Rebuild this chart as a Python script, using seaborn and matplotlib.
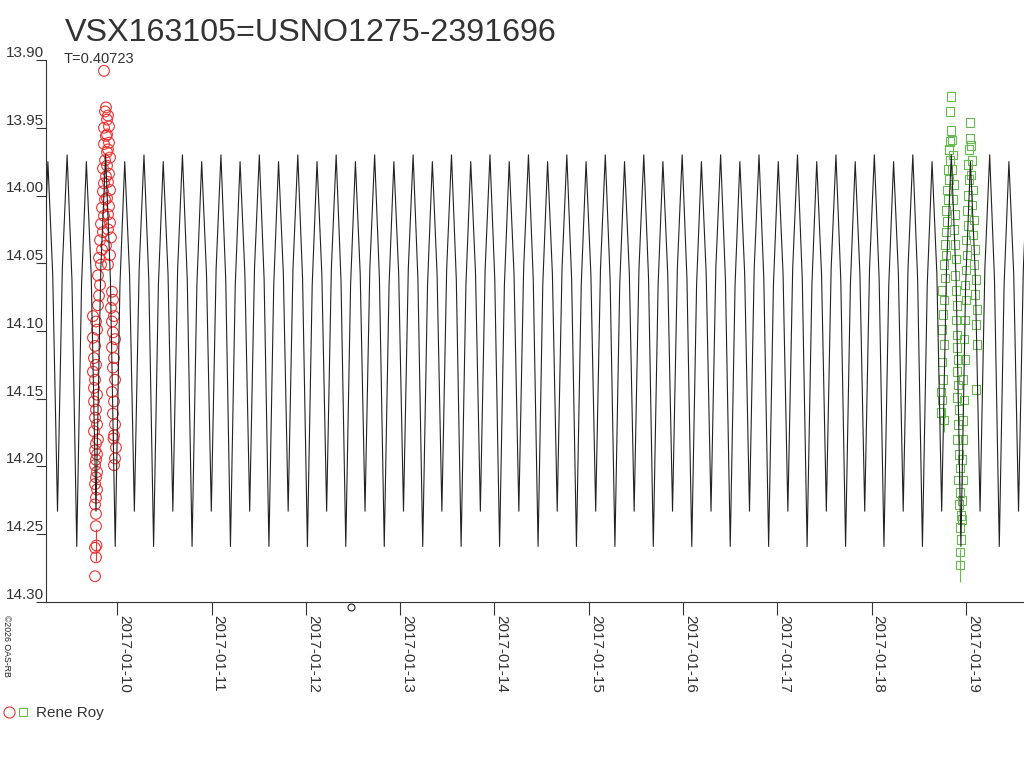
"""
Light curve of VSX163105 with the model ephemeris and Rene Roy's two runs.
Writes out.png (1024x768).
"""

import numpy as np
import pandas as pd
import matplotlib
matplotlib.use("Agg")
import matplotlib.pyplot as plt
import matplotlib.dates as mdates
from matplotlib.legend_handler import HandlerTuple
from matplotlib.lines import Line2D
import seaborn as sns

# =============================================================================
# DATA — day of January 2017 (decimal) and magnitude
# =============================================================================

TITLE = "VSX163105=USNO1275-2391696"
PERIOD_LABEL = "T=0.40723"
OBSERVER = "Rene Roy"
CREDIT = "©2026 OAS-RB"

# turning points of the model curve (min / max alternating)
model_day = [
    9.162, 9.264, 9.366, 9.468, 9.570, 9.672, 9.774, 9.876,
    9.978, 10.079, 10.181, 10.283, 10.385, 10.487, 10.589, 10.691,
    10.793, 10.895, 10.997, 11.099, 11.200, 11.302, 11.404, 11.506,
    11.608, 11.710, 11.812, 11.914, 12.016, 12.118, 12.220, 12.321,
    12.423, 12.525, 12.627, 12.729, 12.831, 12.933, 13.035, 13.137,
    13.239, 13.341, 13.442, 13.544, 13.646, 13.748, 13.850, 13.952,
    14.054, 14.156, 14.258, 14.360, 14.462, 14.563, 14.665, 14.767,
    14.869, 14.971, 15.073, 15.175, 15.277, 15.379, 15.481, 15.583,
    15.684, 15.786, 15.888, 15.990, 16.092, 16.194, 16.296, 16.398,
    16.500, 16.602, 16.704, 16.805, 16.907, 17.009, 17.111, 17.213,
    17.315, 17.417, 17.519, 17.621, 17.723, 17.825, 17.926, 18.028,
    18.130, 18.232, 18.334, 18.436, 18.538, 18.640, 18.742, 18.844,
    18.946, 19.047, 19.149, 19.251, 19.353, 19.455, 19.557, 19.659,
]
model_mag = [
    14.259, 13.975, 14.233, 13.970, 14.259, 13.975, 14.233, 13.970,
    14.259, 13.975, 14.233, 13.970, 14.259, 13.975, 14.233, 13.970,
    14.259, 13.975, 14.233, 13.970, 14.259, 13.975, 14.233, 13.970,
    14.259, 13.975, 14.233, 13.970, 14.259, 13.975, 14.233, 13.970,
    14.259, 13.975, 14.233, 13.970, 14.259, 13.975, 14.233, 13.970,
    14.259, 13.975, 14.233, 13.970, 14.259, 13.975, 14.233, 13.970,
    14.259, 13.975, 14.233, 13.970, 14.259, 13.975, 14.233, 13.970,
    14.259, 13.975, 14.233, 13.970, 14.259, 13.975, 14.233, 13.970,
    14.259, 13.975, 14.233, 13.970, 14.259, 13.975, 14.233, 13.970,
    14.259, 13.975, 14.233, 13.970, 14.259, 13.975, 14.233, 13.970,
    14.259, 13.975, 14.233, 13.970, 14.259, 13.975, 14.233, 13.970,
    14.259, 13.975, 14.233, 13.970, 14.259, 13.975, 14.233, 13.970,
    14.259, 13.975, 14.233, 13.970, 14.259, 13.975, 14.233, 13.970,
]

# model curve halfway between turning points (sharp minima, round maxima)
model_mid_day = [
    9.213, 9.315, 9.417, 9.519, 9.621, 9.723, 9.825, 9.927,
    10.028, 10.130, 10.232, 10.334, 10.436, 10.538, 10.640, 10.742,
    10.844, 10.946, 11.048, 11.150, 11.251, 11.353, 11.455, 11.557,
    11.659, 11.761, 11.863, 11.965, 12.067, 12.169, 12.270, 12.372,
    12.474, 12.576, 12.678, 12.780, 12.882, 12.984, 13.086, 13.188,
    13.290, 13.391, 13.493, 13.595, 13.697, 13.799, 13.901, 14.003,
    14.105, 14.207, 14.309, 14.411, 14.512, 14.614, 14.716, 14.818,
    14.920, 15.022, 15.124, 15.226, 15.328, 15.430, 15.532, 15.634,
    15.735, 15.837, 15.939, 16.041, 16.143, 16.245, 16.347, 16.449,
    16.551, 16.653, 16.754, 16.856, 16.958, 17.060, 17.162, 17.264,
    17.366, 17.468, 17.570, 17.672, 17.774, 17.875, 17.977, 18.079,
    18.181, 18.283, 18.385, 18.487, 18.589, 18.691, 18.793, 18.895,
    18.996, 19.098, 19.200, 19.302, 19.404, 19.506, 19.608,
]
model_mid_mag = [
    14.066, 14.058, 14.054, 14.062, 14.066, 14.058, 14.054, 14.062,
    14.066, 14.058, 14.054, 14.062, 14.066, 14.058, 14.054, 14.062,
    14.066, 14.058, 14.054, 14.062, 14.066, 14.058, 14.054, 14.062,
    14.066, 14.058, 14.054, 14.062, 14.066, 14.058, 14.054, 14.062,
    14.066, 14.058, 14.054, 14.062, 14.066, 14.058, 14.054, 14.062,
    14.066, 14.058, 14.054, 14.062, 14.066, 14.058, 14.054, 14.062,
    14.066, 14.058, 14.054, 14.062, 14.066, 14.058, 14.054, 14.062,
    14.066, 14.058, 14.054, 14.062, 14.066, 14.058, 14.054, 14.062,
    14.066, 14.058, 14.054, 14.062, 14.066, 14.058, 14.054, 14.062,
    14.066, 14.058, 14.054, 14.062, 14.066, 14.058, 14.054, 14.062,
    14.066, 14.058, 14.054, 14.062, 14.066, 14.058, 14.054, 14.062,
    14.066, 14.058, 14.054, 14.062, 14.066, 14.058, 14.054, 14.062,
    14.066, 14.058, 14.054, 14.062, 14.066, 14.058, 14.054,
]

# first run (red circles)
red_day = [
    9.764, 9.774, 9.764, 9.774, 9.774, 9.764, 9.774, 9.785, 9.764, 9.774,
    9.785, 9.764, 9.774, 9.785, 9.764, 9.774, 9.795, 9.753, 9.785, 9.764,
    9.774, 9.753, 9.785, 9.753, 9.764, 9.742, 9.774, 9.753, 9.764, 9.742,
    9.785, 9.774, 9.742, 9.795, 9.806,
    9.817, 9.795, 9.827, 9.806, 9.838, 9.817, 9.848, 9.827, 9.859, 9.838,
    9.870, 9.848, 9.859, 9.880, 9.848, 9.870, 9.891, 9.859, 9.880, 9.859,
    9.891, 9.870, 9.880, 9.859,
    9.901, 9.912, 9.891, 9.912, 9.901, 9.923, 9.891, 9.912, 9.901, 9.923,
    9.891, 9.912, 9.901, 9.923, 9.901, 9.933, 9.880, 9.923, 9.901,
    9.944, 9.954, 9.933, 9.965, 9.944, 9.954, 9.976, 9.944, 9.965, 9.954,
    9.976, 9.944, 9.965, 9.954, 9.976, 9.965, 9.986, 9.976, 9.965,
]
red_mag = [
    14.281, 14.267, 14.260, 14.244, 14.235, 14.228, 14.223, 14.217, 14.213, 14.208,
    14.204, 14.199, 14.195, 14.191, 14.188, 14.183, 14.180, 14.174, 14.169, 14.164,
    14.158, 14.152, 14.147, 14.142, 14.136, 14.130, 14.125, 14.120, 14.111, 14.105,
    14.099, 14.093, 14.089, 14.081, 14.074,
    14.066, 14.059, 14.051, 14.046, 14.040, 14.033, 14.027, 14.021, 14.015, 14.009,
    14.003, 13.997, 13.991, 13.986, 13.980, 13.974, 13.968, 13.962, 13.956, 13.950,
    13.944, 13.938, 13.935, 13.908,
    13.941, 13.949, 13.955, 13.961, 13.966, 13.972, 13.978, 13.984, 13.990, 13.996,
    14.002, 14.008, 14.014, 14.020, 14.025, 14.031, 14.037, 14.044, 14.051,
    14.071, 14.077, 14.083, 14.089, 14.093, 14.101, 14.106, 14.112, 14.120, 14.127,
    14.136, 14.145, 14.152, 14.161, 14.169, 14.177, 14.186, 14.194, 14.199,
]

# second run (green squares)
green_day = [
    18.735, 18.746, 18.735, 18.756, 18.746, 18.767, 18.746, 18.756, 18.767, 18.746,
    18.777, 18.767, 18.788, 18.777, 18.788, 18.798, 18.788, 18.809, 18.798, 18.820,
    18.809, 18.830, 18.820, 18.830, 18.841, 18.830, 18.841,
    18.851, 18.862, 18.851, 18.873, 18.862, 18.883, 18.873, 18.883, 18.894, 18.883,
    18.894, 18.904, 18.894, 18.904, 18.904, 18.915, 18.904, 18.915, 18.904, 18.926,
    18.915, 18.904, 18.926, 18.936, 18.915, 18.936, 18.926, 18.947, 18.936, 18.947,
    18.936,
    18.957, 18.957, 18.968, 18.957, 18.968, 18.968, 18.979, 18.968, 18.989, 18.979,
    18.989, 19.000, 18.989, 19.000, 19.010, 19.000, 19.021, 19.010, 19.021, 19.032,
    19.021, 19.032, 19.042, 19.042,
    19.053, 19.063, 19.053, 19.074, 19.063, 19.085, 19.074, 19.095, 19.085, 19.106,
    19.095, 19.116, 19.106, 19.116, 19.106,
]
green_mag = [
    14.160, 14.151, 14.145, 14.136, 14.123, 14.110, 14.099, 14.088, 14.077, 14.070,
    14.061, 14.051, 14.044, 14.036, 14.027, 14.019, 14.011, 14.003, 13.996, 13.988,
    13.981, 13.974, 13.966, 13.960, 13.952, 13.938, 13.927,
    13.959, 13.970, 13.981, 13.992, 14.003, 14.014, 14.025, 14.036, 14.047, 14.059,
    14.070, 14.081, 14.092, 14.103, 14.112, 14.121, 14.130, 14.140, 14.149, 14.158,
    14.169, 14.180, 14.191, 14.201, 14.210, 14.219, 14.228, 14.236, 14.245, 14.254,
    14.263,
    14.239, 14.225, 14.210, 14.195, 14.180, 14.166, 14.151, 14.136, 14.121, 14.106,
    14.092, 14.077, 14.066, 14.055, 14.044, 14.033, 14.022, 14.011, 14.000, 13.988,
    13.977, 13.966, 13.958, 13.946,
    13.963, 13.974, 13.985, 13.996, 14.007, 14.018, 14.029, 14.040, 14.051, 14.062,
    14.073, 14.084, 14.095, 14.110, 14.143,
]

# the few points whose error bars show outside the marker
red_err_day = [9.774, 9.954]
red_err_mag = [14.258, 14.179]
red_err = [0.012, 0.006]
green_err_day = [18.767, 18.936]
green_err_mag = [14.166, 14.273]
green_err = [0.0085, 0.012]

# lone marker drawn just under the axis
stray_day = [12.478]
stray_mag = [14.304]

x_range = (9.244, 19.615)
y_ticks = [13.90, 13.95, 14.00, 14.05, 14.10, 14.15, 14.20, 14.25, 14.30]

# =============================================================================
# STYLE
# =============================================================================

RED = "#ee3333"
GREEN = "#66bb4f"
INK = "#222222"
TEXT = "#333333"


def to_time(days):
    """Decimal day of January 2017 -> timestamps."""
    return pd.Timestamp("2016-12-31") + pd.to_timedelta(np.asarray(days, dtype=float), unit="D")


# model curve: turning points + half-way points, in time order
model = pd.concat([
    pd.DataFrame({"day": model_day, "mag": model_mag}),
    pd.DataFrame({"day": model_mid_day, "mag": model_mid_mag}),
]).sort_values("day")
model["time"] = to_time(model["day"])

sns.set_theme(style="white")
plt.rcParams["font.family"] = ["Liberation Sans", "DejaVu Sans"]
plt.rcParams["text.color"] = TEXT

fig = plt.figure(figsize=(10.24, 7.68), dpi=100)
ax = fig.add_axes([46 / 1024, 1 - 602 / 768, 1 - 46 / 1024, (602 - 60) / 768])

# observations
sns.scatterplot(x=to_time(red_day), y=red_mag, marker="o", s=60,
                facecolor="none", edgecolor=RED, color=RED, linewidth=0.8,
                ax=ax, zorder=2)
sns.scatterplot(x=to_time(green_day), y=green_mag, marker="s", s=38,
                facecolor="none", edgecolor=GREEN, color=GREEN, linewidth=0.8,
                ax=ax, zorder=2)
ax.errorbar(to_time(red_err_day), red_err_mag, yerr=red_err, fmt="o", ms=7.7,
            mfc="none", mec=RED, mew=0.8, ecolor=RED, elinewidth=0.8,
            capsize=0, zorder=2)
ax.errorbar(to_time(green_err_day), green_err_mag, yerr=green_err, fmt="s", ms=6.2,
            mfc="none", mec=GREEN, mew=0.8, ecolor=GREEN, elinewidth=0.8,
            capsize=0, zorder=2)

# model curve on top
sns.lineplot(data=model, x="time", y="mag", sort=False, estimator=None,
             color=INK, linewidth=0.8, ax=ax, zorder=3)

ax.plot(to_time(stray_day), stray_mag, "o", ms=5, mfc="none", mec=INK, mew=0.8,
        clip_on=False, zorder=4)

# axes
ax.set_xlim(to_time([x_range[0]])[0], to_time([x_range[1]])[0])
ax.set_ylim(max(y_ticks), min(y_ticks))
ax.set_xlabel("")
ax.set_ylabel("")
for side in ("top", "right"):
    ax.spines[side].set_visible(False)
for side in ("left", "bottom"):
    ax.spines[side].set_color(TEXT)
    ax.spines[side].set_linewidth(0.8)

ax.xaxis.set_major_locator(mdates.DayLocator())
ax.xaxis.set_major_formatter(mdates.DateFormatter("%Y-%m-%d"))
ax.set_yticks(y_ticks)
ax.set_yticklabels([f"{v:.2f}" for v in y_ticks])

ax.tick_params(axis="y", direction="out", length=7, width=0.8, color=TEXT,
               pad=-5.5, labelsize=11, labelcolor=TEXT, left=True)
ax.tick_params(axis="x", direction="out", length=9, width=0.8, color=TEXT,
               pad=0.5, labelsize=11, labelcolor=TEXT, bottom=True)
for lbl in ax.get_yticklabels():
    lbl.set_verticalalignment("bottom")
for lbl in ax.get_xticklabels():
    lbl.set_rotation(270)
    lbl.set_horizontalalignment("left")
    lbl.set_verticalalignment("top")

# texts
fig.text(65 / 1024, 1 - 41 / 768, TITLE, fontsize=23.2, color=TEXT, va="baseline")
fig.text(64 / 1024, 1 - 63 / 768, PERIOD_LABEL, fontsize=10.5, color=TEXT, va="baseline")
fig.text(2 / 1024, 1 - 615 / 768, CREDIT, fontsize=6.3, color=INK, rotation=270,
         ha="left", va="top")

# legend: both marker styles belong to the same observer
h_red = Line2D([], [], ls="none", marker="o", ms=8, mfc="none", mec=RED, mew=0.8)
h_green = Line2D([], [], ls="none", marker="s", ms=5.5, mfc="none", mec=GREEN, mew=0.8)
fig.legend(handles=[(h_red, h_green)], labels=[OBSERVER],
           handler_map={tuple: HandlerTuple(ndivide=None, pad=0.2)},
           loc="center left", bbox_to_anchor=(4 / 1024, 1 - 713 / 768),
           frameon=False, fontsize=11, handlelength=1.6, handletextpad=0.5,
           borderpad=0, borderaxespad=0)

fig.savefig("out.png", dpi=100)
